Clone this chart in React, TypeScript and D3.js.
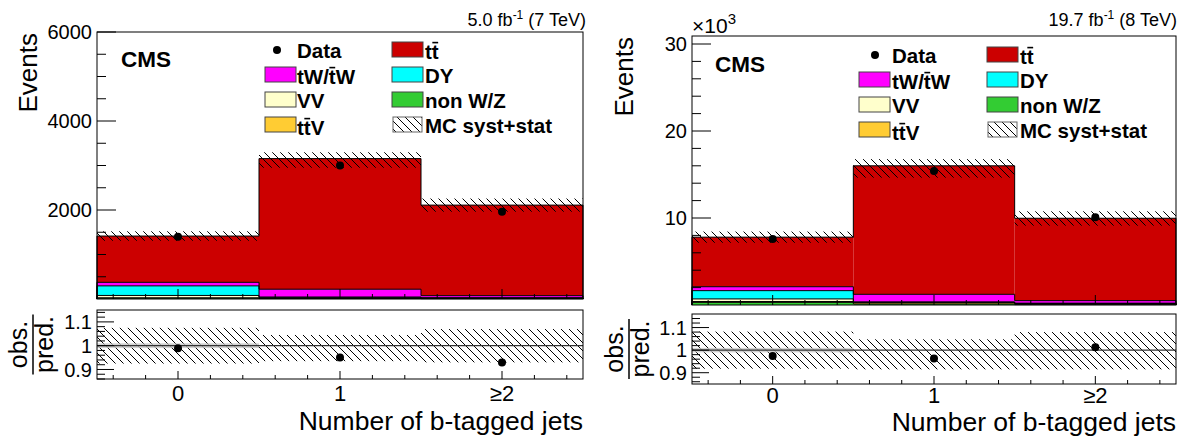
import React from 'react';
import * as d3 from 'd3';

// ---------- data ----------
const categories = ['0', '1', '≥2'];
const binCenters = [0, 1, 2];
const stackKeys = ['nonWZ', 'ttV', 'VV', 'DY', 'tW', 'tt']; // bottom -> top

// 7 TeV, 5.0 fb-1
const tt7 = [1040, 2935, 2035];
const tW7 = [80, 175, 50];
const DY7 = [215, 15, 3];
const VV7 = [55, 10, 2];
const ttV7 = [5, 10, 12];
const nonWZ7 = [20, 10, 8];
const data7 = [1400, 3000, 1960];
const uncUp7 = [0.075, 0.045, 0.07];
const uncDown7 = [0.075, 0.065, 0.07];

// 8 TeV, 19.7 fb-1
const tt8 = [5700, 14770, 9470];
const tW8 = [450, 880, 300];
const DY8 = [950, 30, 10];
const VV8 = [300, 50, 20];
const ttV8 = [100, 150, 120];
const nonWZ8 = [300, 120, 50];
const data8 = [7600, 15400, 10100];
const uncUp8 = [0.082, 0.048, 0.08];
const uncDown8 = [0.082, 0.085, 0.085];

const colors: Record<string, string> = {
  tt: '#cc0000',
  tW: '#ff00ff',
  DY: '#00ffff',
  VV: '#ffffcc',
  ttV: '#ffcc33',
  nonWZ: '#33cc33',
};

const FONT = "'Liberation Sans', Arial, Helvetica, sans-serif";

type Cfg = {
  x0: number; x1: number;
  top0: number; top1: number;
  rat0: number; rat1: number;
  yMax: number; yMajor: number; yMinor: number; yDiv: number;
  ratDomain: [number, number];
  comps: Record<string, number[]>;
  data: number[];
  up: number[]; down: number[];
  lumi: string; energy: string;
  legend: { dotX: number; c1Box: number; c1Text: number; c2Box: number; c2Text: number; base: number; step: number; boxW: number };
  cms: [number, number];
  eventsX: number;
  fracX: number;
  tickLabY: number; titleY: number;
  exponent?: boolean;
  lumiX: number; lumiY: number;
};

function OverText({ x, y, parts, fs }: { x: number; y: number; parts: { t: string; over?: boolean; w: number }[]; fs: number }) {
  let off = 0;
  const lines: JSX.Element[] = [];
  parts.forEach((p, i) => {
    if (p.over) {
      lines.push(
        <line key={i} x1={x + off * fs + 0.5} x2={x + (off + p.w) * fs - 0.5} y1={y - 0.8 * fs} y2={y - 0.8 * fs} stroke="#000" strokeWidth={1.6} />
      );
    }
    off += p.w;
  });
  return (
    <g>
      <text x={x} y={y} fontSize={fs} fontWeight="bold" fontFamily={FONT}>
        {parts.map((p) => p.t).join('')}
      </text>
      {lines}
    </g>
  );
}

function Panel({ cfg, id }: { cfg: Cfg; id: string }) {
  const x = d3.scaleLinear().domain([-0.5, 2.5]).range([cfg.x0, cfg.x1]);
  const y = d3.scaleLinear().domain([0, cfg.yMax]).range([cfg.top1, cfg.top0]);
  const yr = d3.scaleLinear().domain(cfg.ratDomain).range([cfg.rat1, cfg.rat0]);

  const rows = categories.map((_, i) => {
    const r: Record<string, number> = {};
    stackKeys.forEach((k) => (r[k] = cfg.comps[k][i]));
    return r;
  });
  const layers = d3.stack<Record<string, number>>().keys(stackKeys)(rows);
  const totals = layers[layers.length - 1].map((d) => d[1]);
  const ratio = cfg.data.map((d, i) => d / totals[i]);

  const bl = (i: number) => x(binCenters[i] - 0.5);
  const br = (i: number) => x(binCenters[i] + 0.5);

  const stepPath = (vals: number[]) => {
    let p = `M${bl(0)},${y(0)}`;
    vals.forEach((v, i) => {
      p += `V${y(v)}H${br(i)}`;
    });
    p += `V${y(0)}`;
    return p;
  };

  const yMajors = d3.range(cfg.yMajor, cfg.yMax + 1e-9, cfg.yMajor);
  const yMinors = d3.range(0, cfg.yMax + 1e-9, cfg.yMinor).filter((v) => Math.abs(v / cfg.yMajor - Math.round(v / cfg.yMajor)) > 1e-6);
  const xMinors = d3.range(-0.4, 2.5, 0.2).filter((v) => Math.abs(v - Math.round(v)) > 1e-6);
  const rMajors = [0.9, 1.0, 1.1];
  const rMinors = d3.range(Math.ceil(cfg.ratDomain[0] / 0.02) * 0.02, cfg.ratDomain[1], 0.02).filter((v) => Math.abs(v * 10 - Math.round(v * 10)) > 1e-6);

  const L = cfg.legend;
  const fsL = 20.5;
  const rowY = (r: number) => L.base + r * L.step;
  const box = (bx: number, r: number, fill: string, key: string, w = L.boxW) => (
    <rect key={key} x={bx} y={rowY(r) - 16} width={w} height={15} fill={fill} stroke="#444" strokeWidth={1} />
  );

  return (
    <g>
      {layers.map((layer) =>
        layer.map((d, i) => (
          <rect key={layer.key + i} x={bl(i)} width={br(i) - bl(i)} y={y(d[1])} height={Math.max(0, y(d[0]) - y(d[1]))} fill={colors[layer.key]} />
        ))
      )}
      {layers.map((layer) => (
        <path key={'o' + layer.key} d={stepPath(layer.map((d) => d[1]))} fill="none" stroke="#000" strokeWidth={1} />
      ))}
      {totals.map((t, i) => (
        <rect key={'u' + i} x={bl(i)} width={br(i) - bl(i)} y={y(t * (1 + cfg.up[i]))} height={y(t * (1 - cfg.down[i])) - y(t * (1 + cfg.up[i]))} fill={`url(#${id}hatch)`} />
      ))}
      {cfg.data.map((d, i) => (
        <circle key={'d' + i} cx={x(binCenters[i])} cy={y(d)} r={4} fill="#000" />
      ))}
      <rect x={cfg.x0} y={cfg.top0} width={cfg.x1 - cfg.x0} height={cfg.top1 - cfg.top0} fill="none" stroke="#000" strokeWidth={1} />
      {yMajors.map((v) => (
        <g key={'ym' + v}>
          <line x1={cfg.x0} x2={cfg.x0 + 19} y1={y(v)} y2={y(v)} stroke="#000" />
          <text x={cfg.x0 - 5} y={y(v)} dy="0.36em" textAnchor="end" fontSize={20} fontFamily={FONT}>
            {v / cfg.yDiv}
          </text>
        </g>
      ))}
      {yMinors.map((v) => (
        <line key={'yn' + v} x1={cfg.x0} x2={cfg.x0 + 9} y1={y(v)} y2={y(v)} stroke="#000" />
      ))}
      {binCenters.map((v) => (
        <line key={'xm' + v} x1={x(v)} x2={x(v)} y1={cfg.top1} y2={cfg.top1 - 10} stroke="#000" />
      ))}
      {xMinors.map((v) => (
        <line key={'xn' + v} x1={x(v)} x2={x(v)} y1={cfg.top1} y2={cfg.top1 - 5} stroke="#000" />
      ))}
      {cfg.exponent && (
        <text x={cfg.x0} y={cfg.top0 - 3} fontSize={21} fontFamily={FONT}>
          ×10<tspan dy={-9} fontSize={15}>3</tspan>
        </text>
      )}
      <text transform={`translate(${cfg.eventsX},${cfg.top0 + 1}) rotate(-90)`} textAnchor="end" fontSize={26} fontFamily={FONT}>
        Events
      </text>
      <text x={cfg.lumiX} y={cfg.lumiY} textAnchor="end" fontSize={18} fontFamily={FONT}>
        {cfg.lumi} fb<tspan dy={-7} fontSize={12}>-1</tspan>
        <tspan dy={7}> ({cfg.energy})</tspan>
      </text>
      <text x={cfg.cms[0]} y={cfg.cms[1]} fontSize={22.5} fontWeight="bold" fontFamily={FONT}>
        CMS
      </text>
      {/* legend */}
      <circle cx={L.dotX} cy={rowY(0) - 8} r={4} fill="#000" />
      <OverText x={L.c1Text} y={rowY(0)} fs={fsL} parts={[{ t: 'Data', w: 2.167 }]} />
      {box(L.c1Box, 1, colors.tW, 'b1')}
      <OverText x={L.c1Text} y={rowY(1) + 1} fs={fsL} parts={[{ t: 'tW/', w: 1.555 }, { t: 't', over: true, w: 0.333 }, { t: 'W', w: 0.944 }]} />
      {box(L.c1Box, 2, colors.VV, 'b2')}
      <OverText x={L.c1Text} y={rowY(2)} fs={fsL} parts={[{ t: 'VV', w: 1.334 }]} />
      {box(L.c1Box, 3, colors.ttV, 'b3')}
      <OverText x={L.c1Text} y={rowY(3) + 2} fs={fsL} parts={[{ t: 't', w: 0.333 }, { t: 't', over: true, w: 0.333 }, { t: 'V', w: 0.667 }]} />
      {box(L.c2Box, 0, colors.tt, 'b4')}
      <OverText x={L.c2Text} y={rowY(0) + 1} fs={fsL} parts={[{ t: 't', w: 0.333 }, { t: 't', over: true, w: 0.333 }]} />
      {box(L.c2Box, 1, colors.DY, 'b5')}
      <OverText x={L.c2Text} y={rowY(1)} fs={fsL} parts={[{ t: 'DY', w: 1.389 }]} />
      {box(L.c2Box, 2, colors.nonWZ, 'b6')}
      <OverText x={L.c2Text} y={rowY(2)} fs={fsL} parts={[{ t: 'non W/Z', w: 4 }]} />
      <rect x={L.c2Box + 1} y={rowY(3) - 16} width={L.boxW - 2} height={15} fill={`url(#${id}hatch)`} stroke="#666" strokeWidth={1} />
      <OverText x={L.c2Text} y={rowY(3)} fs={fsL} parts={[{ t: 'MC syst+stat', w: 6.75 }]} />

      {/* ratio pad */}
      <rect x={cfg.x0} y={cfg.rat0} width={cfg.x1 - cfg.x0} height={cfg.rat1 - cfg.rat0} fill="#fff" />
      {cfg.up.map((u, i) => (
        <rect key={'ru' + i} x={bl(i)} width={br(i) - bl(i)} y={yr(1 + u)} height={yr(1 - cfg.down[i]) - yr(1 + u)} fill={`url(#${id}hatch)`} />
      ))}
      <rect x={bl(0)} width={br(0) - bl(0)} y={yr(1.01)} height={yr(0.99) - yr(1.01)} fill="#c8c8c8" opacity={0.8} />
      <line x1={cfg.x0} x2={cfg.x1} y1={yr(1)} y2={yr(1)} stroke="#333" strokeWidth={1.2} />
      {ratio.map((r, i) => (
        <circle key={'r' + i} cx={x(binCenters[i])} cy={yr(r)} r={4} fill="#000" />
      ))}
      <rect x={cfg.x0} y={cfg.rat0} width={cfg.x1 - cfg.x0} height={cfg.rat1 - cfg.rat0} fill="none" stroke="#000" strokeWidth={1} />
      {rMajors.map((v) => (
        <g key={'rm' + v}>
          <line x1={cfg.x0} x2={cfg.x0 + 17} y1={yr(v)} y2={yr(v)} stroke="#000" />
          <text x={cfg.x0 - 5} y={yr(v)} dy="0.36em" textAnchor="end" fontSize={20} fontFamily={FONT}>
            {v === 1 ? '1' : v.toFixed(1)}
          </text>
        </g>
      ))}
      {rMinors.map((v) => (
        <line key={'rn' + v} x1={cfg.x0} x2={cfg.x0 + 8} y1={yr(v)} y2={yr(v)} stroke="#000" />
      ))}
      {binCenters.map((v, i) => (
        <g key={'rx' + v}>
          <line x1={x(v)} x2={x(v)} y1={cfg.rat1} y2={cfg.rat1 - 8} stroke="#000" />
          <text x={x(v)} y={cfg.tickLabY} textAnchor="middle" fontSize={22} fontFamily={FONT}>
            {categories[i]}
          </text>
        </g>
      ))}
      {xMinors.map((v) => (
        <line key={'rxn' + v} x1={x(v)} x2={x(v)} y1={cfg.rat1} y2={cfg.rat1 - 4} stroke="#000" />
      ))}
      <text x={cfg.x1} y={cfg.titleY} textAnchor="end" fontSize={26.5} fontFamily={FONT}>
        Number of b-tagged jets
      </text>
      <g transform={`translate(${cfg.fracX},${(cfg.rat0 + cfg.rat1) / 2}) rotate(-90)`} fontFamily={FONT} fontSize={25}>
        <text x={0} y={-6} textAnchor="middle">obs.</text>
        <line x1={-30} x2={30} y1={0} y2={0} stroke="#000" strokeWidth={1.5} />
        <text x={0} y={20} textAnchor="middle">pred.</text>
      </g>
    </g>
  );
}

const cfg7: Cfg = {
  x0: 97, x1: 583, top0: 32, top1: 299, rat0: 310, rat1: 379,
  yMax: 6000, yMajor: 2000, yMinor: 500, yDiv: 1,
  ratDomain: [0.86, 1.15],
  comps: { tt: tt7, tW: tW7, DY: DY7, VV: VV7, ttV: ttV7, nonWZ: nonWZ7 },
  data: data7, up: uncUp7, down: uncDown7,
  lumi: '5.0', energy: '7 TeV',
  legend: { dotX: 277, c1Box: 265, c1Text: 297, c2Box: 392, c2Text: 425, base: 58, step: 25, boxW: 31 },
  cms: [121, 67], eventsX: 37, fracX: 33, tickLabY: 401, titleY: 430,
  lumiX: 586, lumiY: 26,
};

const cfg8: Cfg = {
  x0: 692, x1: 1176, top0: 36, top1: 305, rat0: 314, rat1: 384,
  yMax: 30920, yMajor: 10000, yMinor: 2000, yDiv: 1000,
  ratDomain: [0.85, 1.16],
  comps: { tt: tt8, tW: tW8, DY: DY8, VV: VV8, ttV: ttV8, nonWZ: nonWZ8 },
  data: data8, up: uncUp8, down: uncDown8,
  lumi: '19.7', energy: '8 TeV',
  legend: { dotX: 875, c1Box: 859, c1Text: 892, c2Box: 987, c2Text: 1020, base: 63, step: 25, boxW: 31 },
  cms: [715, 72], eventsX: 633, fracX: 629, tickLabY: 403, titleY: 431,
  exponent: true,
  lumiX: 1177, lumiY: 26,
};

export default function App() {
  return (
    <svg width={1179} height={438} style={{ position: 'absolute', left: 0, top: 0, background: '#fff' }}>
      <defs>
        {['p7', 'p8'].map((id) => (
          <pattern key={id} id={id + 'hatch'} patternUnits="userSpaceOnUse" width={8} height={8}>
            <path d="M-2,-2L10,10M-2,6L2,10M6,-2L10,2" stroke="#000" strokeWidth={1} />
          </pattern>
        ))}
      </defs>
      <rect width={1179} height={438} fill="#fff" />
      <Panel cfg={cfg7} id="p7" />
      <Panel cfg={cfg8} id="p8" />
    </svg>
  );
}
